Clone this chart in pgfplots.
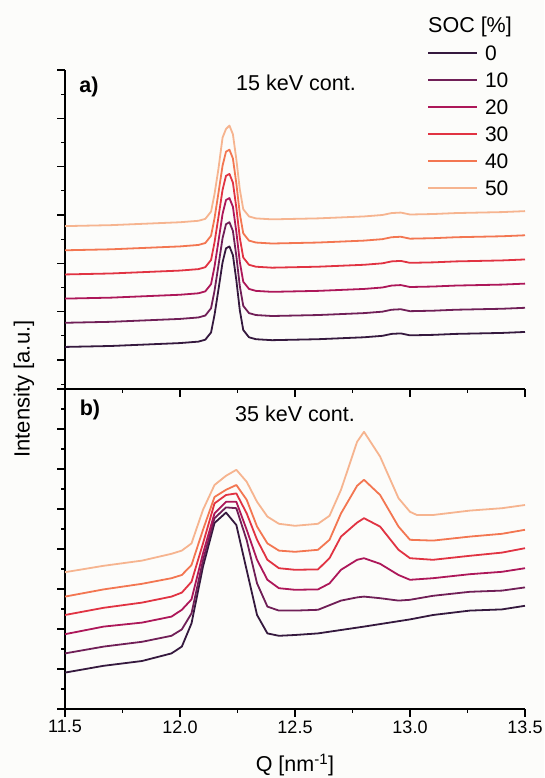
\documentclass[border=0pt]{standalone}
\usepackage{fontspec}
\setmainfont{Liberation Sans}
\usepackage{pgfplots}
\pgfplotsset{compat=1.18}
\definecolor{soc0}{HTML}{35193E}
\definecolor{soc10}{HTML}{701F57}
\definecolor{soc20}{HTML}{AD1759}
\definecolor{soc30}{HTML}{E13342}
\definecolor{soc40}{HTML}{F37651}
\definecolor{soc50}{HTML}{F6B48F}
\definecolor{bgc}{RGB}{252,252,250}

\pgfplotsset{panel/.style={
    scale only axis, width=460pt,
    xmin=11.5, xmax=13.5,
    axis x line*=bottom, axis y line*=left,
    axis line style={-, line width=1.3pt},
    tick align=outside, major tick length=8pt, minor tick length=4pt,
    every tick/.style={black, line width=1.2pt},
    xtick={11.5,12,12.5,13,13.5}, minor x tick num=1,
    yticklabels={},
    tick label style={font=\fontsize{18}{18}\selectfont},
    /pgf/number format/assume math mode=true,
    every axis plot/.append style={line width=1.8pt, line join=round},
}}

\begin{document}
\begin{tikzpicture}
\path[use as bounding box, fill=bgc] (0,0) rectangle (544pt,778pt);

% a) 15 keV
\begin{axis}[panel, at={(65pt,389pt)}, anchor=south west, height=319pt,
    ymin=0, ymax=6.6,
    ytick={0.6,1.6,2.6,3.6,4.6,5.6,6.6},
    minor ytick={0.1,1.1,2.1,3.1,4.1,5.1,6.1},
    xticklabels={},
    legend style={at={(0.787,1.0956)}, anchor=north west, draw=none, fill=none,
        inner sep=0pt, row sep=0pt, column sep=0pt,
        font=\fontsize{21}{21}\selectfont,
        nodes={inner sep=0pt, text height=21pt, text depth=6pt},
        cells={anchor=west}},
    legend image code/.code={\draw[#1] (0pt,0pt) -- (49pt,0pt); \path (56pt,0pt);},
]
\addplot[soc0] coordinates {(11.50,0.87) (11.60,0.88) (11.70,0.89) (11.80,0.91) (11.90,0.93) (12.00,0.95) (12.08,0.98) (12.11,1.02) (12.135,1.17) (12.15,1.53) (12.167,2.05) (12.185,2.62) (12.20,2.91) (12.215,2.95) (12.23,2.77) (12.245,2.25) (12.26,1.63) (12.275,1.22) (12.30,1.07) (12.33,1.03) (12.40,1.01) (12.50,1.02) (12.60,1.03) (12.70,1.05) (12.80,1.07) (12.88,1.10) (12.92,1.14) (12.96,1.15) (13.00,1.11) (13.10,1.12) (13.20,1.14) (13.30,1.15) (13.40,1.16) (13.50,1.18)};
\addlegendentry{0}
\addplot[soc10] coordinates {(11.50,1.37) (11.60,1.38) (11.70,1.39) (11.80,1.41) (11.90,1.43) (12.00,1.45) (12.08,1.48) (12.11,1.52) (12.135,1.67) (12.15,2.03) (12.167,2.55) (12.185,3.12) (12.20,3.41) (12.215,3.45) (12.23,3.27) (12.245,2.75) (12.26,2.13) (12.275,1.72) (12.30,1.57) (12.33,1.53) (12.40,1.51) (12.50,1.52) (12.60,1.53) (12.70,1.55) (12.80,1.57) (12.88,1.60) (12.92,1.64) (12.96,1.65) (13.00,1.61) (13.10,1.62) (13.20,1.64) (13.30,1.65) (13.40,1.66) (13.50,1.68)};
\addlegendentry{10}
\addplot[soc20] coordinates {(11.50,1.87) (11.60,1.88) (11.70,1.89) (11.80,1.91) (11.90,1.93) (12.00,1.95) (12.08,1.98) (12.11,2.02) (12.135,2.17) (12.15,2.53) (12.167,3.05) (12.185,3.62) (12.20,3.91) (12.215,3.95) (12.23,3.77) (12.245,3.25) (12.26,2.63) (12.275,2.22) (12.30,2.07) (12.33,2.03) (12.40,2.01) (12.50,2.02) (12.60,2.03) (12.70,2.05) (12.80,2.07) (12.88,2.10) (12.92,2.14) (12.96,2.15) (13.00,2.11) (13.10,2.12) (13.20,2.14) (13.30,2.15) (13.40,2.16) (13.50,2.18)};
\addlegendentry{20}
\addplot[soc30] coordinates {(11.50,2.37) (11.60,2.38) (11.70,2.39) (11.80,2.41) (11.90,2.43) (12.00,2.45) (12.08,2.48) (12.11,2.52) (12.135,2.67) (12.15,3.03) (12.167,3.55) (12.185,4.12) (12.20,4.41) (12.215,4.45) (12.23,4.27) (12.245,3.75) (12.26,3.13) (12.275,2.72) (12.30,2.57) (12.33,2.53) (12.40,2.51) (12.50,2.52) (12.60,2.53) (12.70,2.55) (12.80,2.57) (12.88,2.60) (12.92,2.64) (12.96,2.65) (13.00,2.61) (13.10,2.62) (13.20,2.64) (13.30,2.65) (13.40,2.66) (13.50,2.68)};
\addlegendentry{30}
\addplot[soc40] coordinates {(11.50,2.87) (11.60,2.88) (11.70,2.89) (11.80,2.91) (11.90,2.93) (12.00,2.95) (12.08,2.98) (12.11,3.02) (12.135,3.17) (12.15,3.53) (12.167,4.05) (12.185,4.62) (12.20,4.91) (12.215,4.95) (12.23,4.77) (12.245,4.25) (12.26,3.63) (12.275,3.22) (12.30,3.07) (12.33,3.03) (12.40,3.01) (12.50,3.02) (12.60,3.03) (12.70,3.05) (12.80,3.07) (12.88,3.10) (12.92,3.14) (12.96,3.15) (13.00,3.11) (13.10,3.12) (13.20,3.14) (13.30,3.15) (13.40,3.16) (13.50,3.18)};
\addlegendentry{40}
\addplot[soc50] coordinates {(11.50,3.37) (11.60,3.38) (11.70,3.39) (11.80,3.41) (11.90,3.43) (12.00,3.45) (12.08,3.48) (12.11,3.52) (12.135,3.67) (12.15,4.03) (12.167,4.55) (12.185,5.20) (12.20,5.38) (12.215,5.45) (12.23,5.27) (12.245,4.75) (12.26,4.13) (12.275,3.72) (12.30,3.57) (12.33,3.53) (12.40,3.51) (12.50,3.52) (12.60,3.53) (12.70,3.55) (12.80,3.57) (12.88,3.60) (12.92,3.64) (12.96,3.65) (13.00,3.61) (13.10,3.62) (13.20,3.64) (13.30,3.65) (13.40,3.66) (13.50,3.68)};
\addlegendentry{50}
\end{axis}

% b) 35 keV
\begin{axis}[panel, at={(65pt,69pt)}, anchor=south west, height=320pt,
    ymin=0, ymax=8, ytick={0,1,...,8}, minor y tick num=1,
    xticklabels={11.5,12.0,12.5,13.0,13.5},
]
\addplot[soc0] coordinates {(11.50,0.91) (11.668,1.08) (11.835,1.20) (11.963,1.39) (12.008,1.56) (12.05,2.14) (12.10,3.56) (12.15,4.65) (12.20,4.91) (12.245,4.60) (12.29,3.47) (12.335,2.35) (12.38,1.89) (12.43,1.83) (12.50,1.85) (12.60,1.89) (12.80,2.06) (13.00,2.24) (13.10,2.35) (13.26,2.46) (13.40,2.49) (13.50,2.58)};
\addplot[soc10] coordinates {(11.50,1.39) (11.668,1.56) (11.835,1.68) (11.963,1.83) (12.008,1.99) (12.05,2.39) (12.10,3.72) (12.15,4.77) (12.20,5.04) (12.245,5.02) (12.29,4.22) (12.335,3.14) (12.38,2.56) (12.43,2.46) (12.50,2.46) (12.60,2.48) (12.70,2.71) (12.77,2.79) (12.80,2.81) (12.87,2.77) (12.95,2.71) (13.00,2.73) (13.10,2.83) (13.26,2.93) (13.40,2.96) (13.50,3.04)};
\addplot[soc20] coordinates {(11.50,1.87) (11.668,2.06) (11.835,2.16) (11.963,2.31) (12.008,2.48) (12.05,2.74) (12.10,3.89) (12.15,4.89) (12.20,5.18) (12.245,5.18) (12.29,4.48) (12.335,3.73) (12.38,3.23) (12.43,3.02) (12.50,2.98) (12.60,2.99) (12.65,3.14) (12.70,3.48) (12.77,3.73) (12.80,3.77) (12.87,3.63) (12.95,3.35) (13.00,3.23) (13.10,3.27) (13.26,3.37) (13.40,3.43) (13.50,3.52)};
\addplot[soc30] coordinates {(11.50,2.35) (11.668,2.53) (11.835,2.66) (11.963,2.81) (12.008,2.91) (12.05,3.18) (12.10,4.14) (12.15,5.14) (12.20,5.35) (12.245,5.39) (12.29,4.89) (12.335,4.23) (12.38,3.73) (12.43,3.52) (12.50,3.48) (12.60,3.49) (12.65,3.77) (12.70,4.31) (12.77,4.66) (12.80,4.77) (12.87,4.56) (12.95,3.98) (13.00,3.77) (13.10,3.73) (13.26,3.83) (13.40,3.91) (13.50,4.02)};
\addplot[soc40] coordinates {(11.50,2.81) (11.668,2.99) (11.835,3.13) (11.963,3.27) (12.008,3.35) (12.05,3.60) (12.10,4.48) (12.15,5.30) (12.20,5.48) (12.245,5.60) (12.29,5.23) (12.335,4.56) (12.38,4.14) (12.43,3.96) (12.50,3.93) (12.60,3.98) (12.65,4.23) (12.70,4.89) (12.77,5.58) (12.80,5.73) (12.87,5.35) (12.95,4.56) (13.00,4.23) (13.10,4.21) (13.26,4.31) (13.40,4.38) (13.50,4.48)};
\addplot[soc50] coordinates {(11.50,3.42) (11.668,3.58) (11.835,3.71) (11.963,3.88) (12.008,3.96) (12.05,4.14) (12.10,4.98) (12.15,5.60) (12.20,5.83) (12.245,5.98) (12.29,5.68) (12.335,5.18) (12.38,4.81) (12.43,4.63) (12.50,4.58) (12.60,4.63) (12.65,4.83) (12.70,5.48) (12.77,6.68) (12.80,6.93) (12.87,6.31) (12.95,5.27) (13.00,4.93) (13.03,4.85) (13.10,4.85) (13.26,4.96) (13.40,5.02) (13.50,5.10)};
\end{axis}

\begin{scope}[font=\fontsize{21.5}{21.5}\selectfont]
\node at (89pt,691pt) {\bfseries a)};
\node at (296pt,695pt) {15 keV cont.};
\node at (90pt,368pt) {\bfseries b)};
\node at (295pt,364pt) {35 keV cont.};
\node[anchor=west, inner sep=0pt] at (428pt,751pt) {SOC [\%]};
\node[rotate=90] at (24pt,389pt) {\fontsize{22}{22}\selectfont Intensity [a.u.]};
\node at (295pt,13pt) {Q [nm\textsuperscript{-1}]};
\end{scope}
\end{tikzpicture}
\end{document}
